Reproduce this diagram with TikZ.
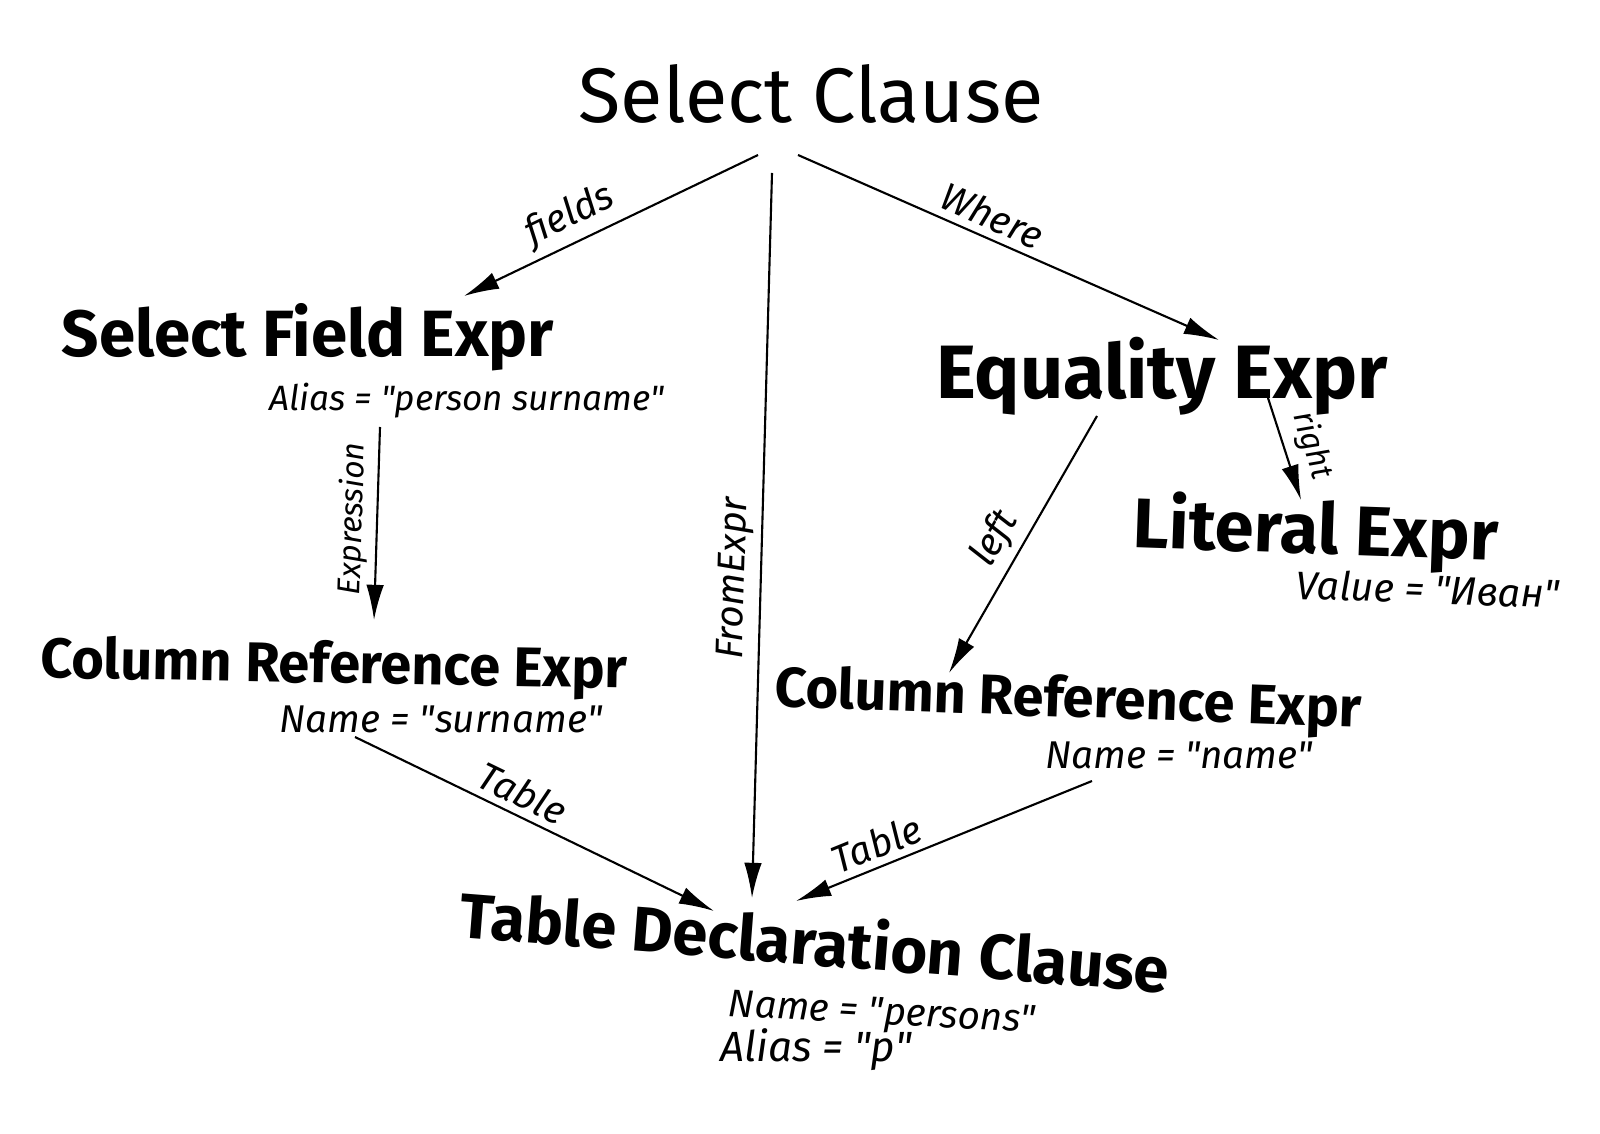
\documentclass[tikz,border=0pt]{standalone}
\usepackage{fontspec}
\setmainfont{Fira Sans}
\usetikzlibrary{arrows.meta,calc}

% straight quotes round a value
\newcommand{\qval}[1]{\textquotedbl#1\textquotedbl}

\begin{document}
\begin{tikzpicture}[x=0.01cm,y=-0.01cm,
	title/.style={font=\bfseries\fontsize{#1}{#1}\selectfont, inner sep=0pt},
	attr/.style={font=\itshape\fontsize{#1}{#1}\selectfont, inner sep=0pt},
	link/.style={-{Latex[length=10pt,width=5pt]}, line width=0.6pt},
	lbl/.style={font=\itshape\fontsize{#1}{#1}\selectfont, sloped, above, inner sep=2pt}]
	
	% page
	\useasboundingbox (0,0) rectangle (1600,1134);
	
	% clauses and expressions
	\node[font=\fontsize{22}{24}\selectfont, inner sep=0pt] (sel) at (811,94) {Select Clause};
	
	\node[title=18.6] (sfe) at (308,337) {Select Field Expr};
	\node[attr=10] (sfealias) at (467,401) {Alias = \qval{person surname}};
	
	\node[title=21.5] (eq) at (1162,376) {Equality Expr};
	
	\node[title=20, rotate=-2] (lit) at (1316,533) {Literal Expr};
	\node[attr=11.3, rotate=-2] (litval) at (1428,589) {Value = \qval{Иван}};
	
	\node[title=15.9, rotate=-1] (crl) at (334,668) {Column Reference Expr};
	\node[attr=11] (crlname) at (441,719) {Name = \qval{surname}};
	
	\node[title=15.9, rotate=-2] (crr) at (1068,702) {Column Reference Expr};
	\node[attr=11] (crrname) at (1179,755) {Name = \qval{name}};
	
	\node[title=18, rotate=-4.5] (tdc) at (815,940) {Table Declaration Clause};
	\node[attr=11, rotate=-3] (tdcname) at (882,1015) {Name = \qval{persons}};
	\node[attr=12] (tdcalias) at (816,1050) {Alias = \qval{p}};
	
	% links
	\draw[link] ($(sel)+(-53,61)$) -- node[lbl=11,pos=0.6] {fields} ($(sfe)+(156,-41)$);
	\draw[link] ($(sel)+(-13,61)$) -- node[lbl=11,pos=0.44] {Where} ($(eq)+(57,-36)$);
	\draw[link] ($(sel)+(-39,79)$) -- node[lbl=11,pos=0.56] {FromExpr} ($(tdc)+(-63,-42)$);
	\draw[link] ($(sfe)+(72,90)$) -- node[lbl=9,pos=0.48] {Expression} ($(crl)+(40,-48)$);
	\draw[link] ($(eq)+(106,22)$) -- node[lbl=9,pos=0.55,inner sep=3pt] {right} ($(lit)+(-15,-33)$);
	\draw[link] ($(eq)+(-65,40)$) -- node[lbl=11,pos=0.53] {left} ($(crr)+(-119,-29)$);
	\draw[link] ($(crl)+(21,69)$) -- node[lbl=11,pos=0.44] {Table} ($(tdc)+(-101,-29)$);
	\draw[link] ($(crr)+(24,79)$) -- node[lbl=11,pos=0.7] {Table} ($(tdc)+(-19,-39)$);
	
\end{tikzpicture}
\end{document}
